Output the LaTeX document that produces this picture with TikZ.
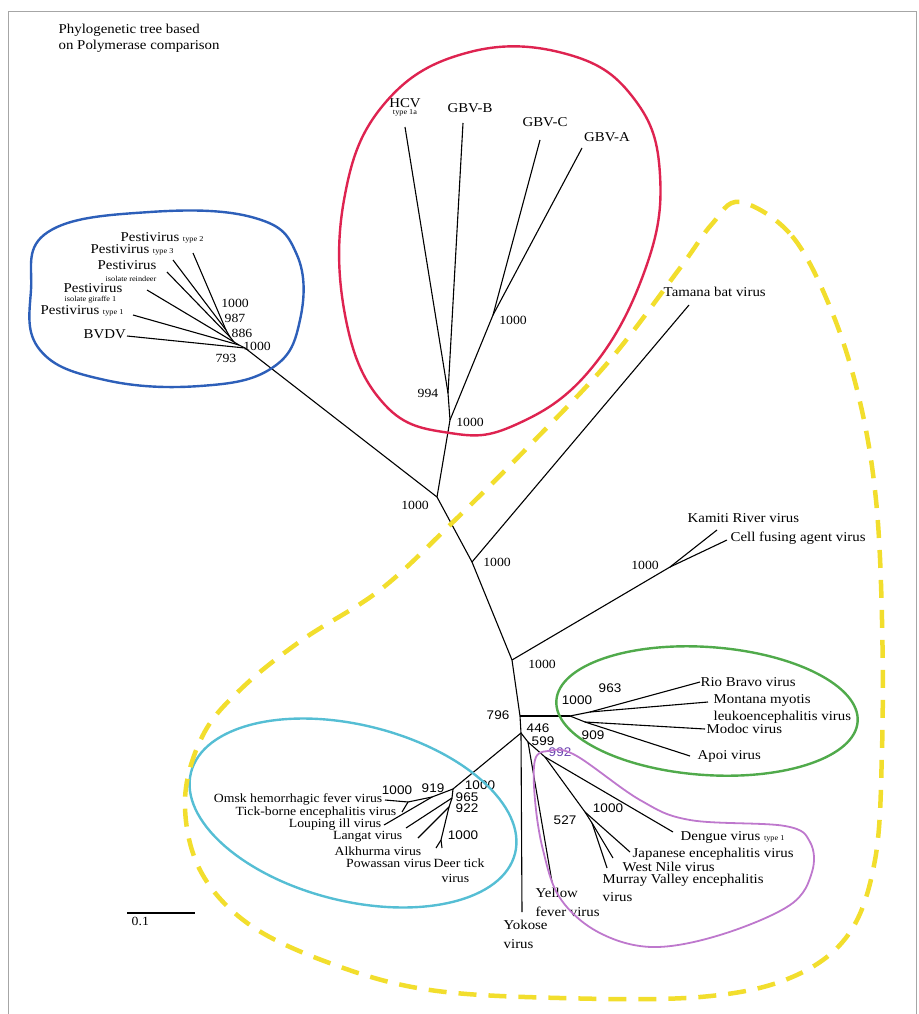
\documentclass[tikz,border=0pt]{standalone}
\usepackage{fontspec}
\setmainfont[FakeStretch=1.1]{Liberation Serif}
\newfontfamily\numsans[FakeStretch=1.08]{Liberation Sans}
\usetikzlibrary{positioning}

\definecolor{hcvred}{RGB}{222,35,80}
\definecolor{pestblue}{RGB}{45,95,185}
\definecolor{flavgreen}{RGB}{80,170,75}
\definecolor{tickcyan}{RGB}{85,190,212}
\definecolor{mosqpurple}{RGB}{190,120,205}
\definecolor{outeryellow}{RGB}{242,222,45}

\newcommand{\vsub}[1]{{\fontsize{7.5}{8}\selectfont #1}}

\begin{document}
\begin{tikzpicture}[x=1pt, y=-1pt,
  branch/.style={line width=1.1pt, black},
  leaf/.style={font=\fontsize{13.5}{15}\selectfont, inner sep=0.5pt},
  tickleaf/.style={font=\fontsize{12.5}{13}\selectfont, inner sep=0.5pt},
  boot/.style={font=\fontsize{12.5}{13}\selectfont, inner sep=0.5pt},
  bootsf/.style={font=\numsans\fontsize{12.5}{13}\selectfont, inner sep=0.5pt},
  clade/.style={line width=2.4pt}]

\useasboundingbox (0,0) rectangle (918,1014);
\draw[gray!70, line width=0.8pt] (8,1014) -- (8,11) -- (916,11) -- (916,1014);

% Titel
\node[leaf, anchor=west] (title1) at (58,30) {Phylogenetic tree based};
\node[leaf, anchor=west] (title2) at (58,46) {on Polymerase comparison};

% Knoten und Blaetter
\foreach \n/\x/\y in {
  b0/437/497, r0/450/420, r994/448/393, rgbv/493/315,
  hcv/405/127, gbvb/463/123, gbvc/540/140, gbva/582/148,
  pe1/245/348, pe2/239/345, pe3/234/342, pe4/230/337, pe5/226/330,
  bvdv/127/336, pt1/133/315, pgir/147/290, prein/167/272, pt3/173/260, pt2/193/253,
  t0/472/562, tam/689/305, k0/512/660, k1/670/567, kam/717/530, cfa/727/540,
  g796/520/716, g0/570/716, g963/590/712, g909/585/722,
  rio/700/682, mon/708/702, mod/705/729, apo/690/756,
  n446/521/733, yok/522/912,
  c0/453/789, c919/432/797, c1000/408/802, omsk/385/800, tbe/402/812, lou/384/825,
  c965/452/798, lan/406/828, c922/449/807, alk/418/838, c1000b/441/840, pow/436/848, deer/442/848,
  p599/528/742, yel/552/882, p992/545/757, den/673/832, pj/585/812, jev/630/852,
  pw/592/823, wnv/613/858, mve/607/868} {
  \coordinate (\n) at (\x,\y);
}

% Aeste
\foreach \a/\b in {
  b0/r0, r0/r994, r994/hcv, r994/gbvb, r0/rgbv, rgbv/gbvc, rgbv/gbva,
  b0/pe1, pe1/bvdv, pe1/pe2, pe2/pt1, pe2/pe3, pe3/pgir, pe3/pe4, pe4/prein, pe4/pe5, pe5/pt3, pe5/pt2,
  b0/t0, t0/tam, t0/k0, k0/k1, k1/kam, k1/cfa, k0/g796,
  g796/g0, g0/g963, g963/rio, g963/mon, g0/g909, g909/mod, g909/apo,
  g796/n446, n446/yok, n446/c0, c0/c919, c919/c1000, c1000/omsk, c1000/tbe, c919/lou,
  c0/c965, c965/lan, c965/c922, c922/alk, c922/c1000b, c1000b/pow, c1000b/deer,
  n446/p599, p599/yel, p599/p992, p992/den, p992/pj, pj/jev, pj/pw, pw/wnv, pw/mve} {
  \draw[branch] (\a) -- (\b);
}

% Beschriftungen links beginnend
\foreach \n/\x/\y/\txt in {
  tam/663/292/Tamana bat virus, kam/687/518/Kamiti River virus, cfa/730/538/Cell fusing agent virus,
  rio/700/682/Rio Bravo virus, mon/713/700/Montana myotis, leu/713/717/leukoencephalitis virus,
  mod/706/729/Modoc virus, apo/697/756/Apoi virus,
  den/680/837/{Dengue virus \vsub{type 1}}, jev/632/854/Japanese encephalitis virus,
  wnv/622/867/West Nile virus, mve/602/880/Murray Valley encephalitis, mvev/602/897/virus,
  yel/535/893/Yellow, yelv/535/912/fever virus, yok/503/925/Yokose, yokv/503/944/virus,
  pt2/120/238/{Pestivirus \vsub{type 2}}, pt3/90/250/{Pestivirus \vsub{type 3}},
  prein/97/265/Pestivirus, preins/105/279/\vsub{isolate reindeer},
  pgir/63/288/Pestivirus, pgirs/64/300/\vsub{isolate giraffe 1},
  pt1/40/311/{Pestivirus \vsub{type 1}}, bvdv/83/334/BVDV} {
  \node[leaf, anchor=west] (l\n) at (\x,\y) {\txt};
}

% Beschriftungen der Zecken-Gruppe
\foreach \n/\x/\y/\txt in {
  omsk/383/799/Omsk hemorrhagic fever virus, tbe/397/812/Tick-borne encephalitis virus,
  lou/382/825/Louping ill virus, lan/403/837/Langat virus,
  alk/422/851/Alkhurma virus, pow/432/863/Powassan virus} {
  \node[tickleaf, anchor=east] (l\n) at (\x,\y) {\txt};
}
\node[tickleaf, anchor=west] (ldeer) at (433,863) {Deer tick};
\node[tickleaf, anchor=west] (ldeerv) at (441,878) {virus};

% Beschriftungen zentriert (HCV/GBV)
\foreach \n/\x/\y/\txt in {
  hcv/405/103/HCV, gbvb/470/108/GBV-B, gbvc/545/122/GBV-C, gbva/607/137/GBV-A} {
  \node[leaf] (l\n) at (\x,\y) {\txt};
}
\node[leaf, below=0.5pt of lhcv] (lhcvs) {\vsub{type 1a}};

% Bootstrap-Werte (Serifen)
\foreach \n/\x/\y/\v in {
  b0/415/505/1000, r994/428/393/994, r0/470/422/1000, rgbv/513/320/1000,
  t0/497/562/1000, k1/645/565/1000, k0/542/664/1000,
  pe5/235/303/1000, pe4/235/318/987, pe3/242/333/886, pe2/257/346/1000, pe1/226/358/793} {
  \node[boot] (v\n) at (\x,\y) {\v};
}

% Bootstrap-Werte (serifenlos)
\foreach \n/\x/\y/\v in {
  g796/498/715/796, n446/538/728/446, p599/543/741/599,
  g0/577/700/1000, g963/610/688/963, g909/593/735/909,
  c1000/397/790/1000, c919/433/788/919, c0/480/785/1000, c965/467/797/965, c922/467/808/922,
  c1000b/463/835/1000, pw/565/820/527, pj/608/808/1000} {
  \node[bootsf] (v\n) at (\x,\y) {\v};
}
\node[bootsf, text=mosqpurple!70!blue!80!black] (vp992) at (560,752) {992};

% Gruppen
\draw[clade, hcvred] plot[smooth cycle, tension=0.7] coordinates {
  (450,433) (385,405) (346,320) (344,200) (385,103) (470,52) (570,55) (635,100) (660,175) (645,270) (590,370) (515,425)};
\draw[clade, pestblue] plot[smooth cycle, tension=0.7] coordinates {
  (31,290) (48,232) (150,212) (255,218) (297,255) (300,320) (272,368) (200,386) (105,380) (40,350)};
\draw[clade, flavgreen, rotate around={-4:(707,711)}] (707,711) ellipse (151pt and 64pt);
\draw[clade, tickcyan, rotate around={-14:(353,813)}] (353,813) ellipse (167pt and 88pt);
\draw[clade, mosqpurple, line width=1.8pt] plot[smooth cycle, tension=0.6] coordinates {
  (535,760) (548,751) (575,755) (640,800) (690,820) (785,826) (810,842) (812,872) (790,905) (720,935) (652,947) (598,932) (560,898) (543,850) (535,800)};
\draw[outeryellow, line width=4.5pt, dash pattern=on 18pt off 12pt] plot[smooth cycle, tension=0.6] coordinates {
  (740,202) (792,236) (832,312) (860,402) (876,500) (882,620) (882,750) (875,860) (848,935) (790,978) (700,997) (560,998) (430,990) (335,965) (250,925) (200,870) (185,800) (203,735) (242,688) (302,640) (380,590) (452,523) (530,445) (610,360) (680,268) (712,224)};

% Massstab
\coordinate (s0) at (127,913);
\coordinate (s1) at (195,913);
\draw[branch] (s0) -- (s1);
\node[boot, anchor=north west] (scale) at (131,916) {0.1};

\end{tikzpicture}
\end{document}
